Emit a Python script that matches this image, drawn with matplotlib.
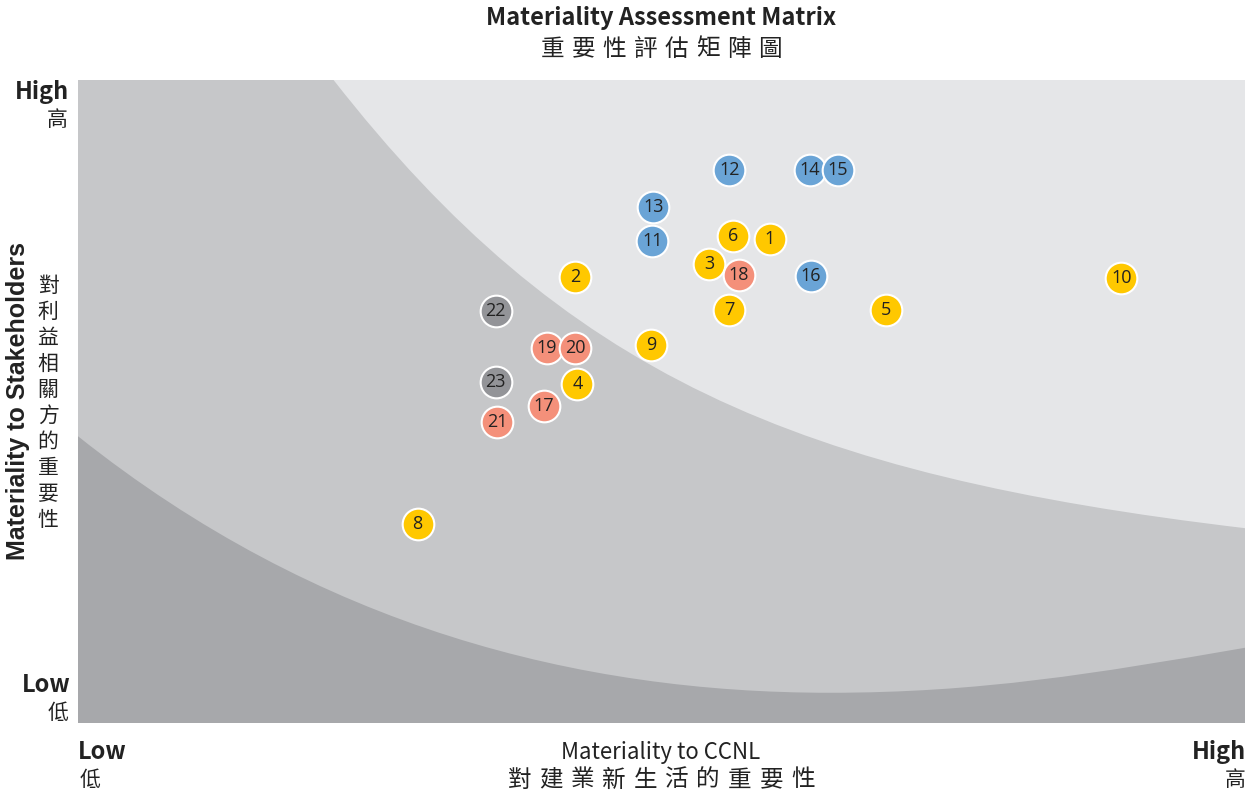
import numpy as np
import matplotlib
matplotlib.use("Agg")
import matplotlib.pyplot as plt
from matplotlib.path import Path
from matplotlib.patches import PathPatch

# issue numbers and their positions on the matrix (0-100 both ways)
labels = [str(i) for i in range(1, 24)]
x_ccnl = [59.3, 42.6, 54.1, 42.8, 69.2, 56.1, 55.8, 29.1, 49.1, 89.4,
          49.2, 55.8, 49.3, 62.7, 65.1, 62.8,
          39.9, 56.6, 40.2, 42.6, 35.9,
          35.8, 35.8]
y_stake = [75.3, 69.4, 71.4, 52.7, 64.2, 75.7, 64.2, 31.0, 58.8, 69.2,
           75.0, 86.0, 80.3, 86.0, 86.0, 69.5,
           49.3, 69.7, 58.3, 58.3, 46.8,
           64.1, 53.0]
groups = ["y"] * 10 + ["b"] * 6 + ["r"] * 5 + ["g"] * 2
group_colors = {"y": "#ffc800", "b": "#6aa4d6", "r": "#f4907a", "g": "#939498"}

# background zone boundaries (bezier control points)
outer_curve = [(21.9, 100.0), (41.6, 54.3), (61.4, 38.6), (100.0, 30.3)]
inner_curve = [(0.0, 44.6), (20.6, 14.8), (43.0, 4.7), (64.4, 4.7),
               (77.3, 4.7), (87.2, 7.7), (100.0, 11.7)]

light = "#e5e6e8"
mid = "#c6c7c9"
dark = "#a7a8ab"
ink = "#222222"

plt.rcParams["font.family"] = ["Noto Sans CJK TC", "DejaVu Sans"]

fig = plt.figure(figsize=(12.56, 7.99), dpi=100)
ax = fig.add_axes([78 / 1256, 76 / 799, 1167 / 1256, 643 / 799])
ax.set_facecolor(mid)
ax.set_xlim(0, 100)
ax.set_ylim(0, 100)
for s in ax.spines.values():
    s.set_visible(False)
ax.set_xticks([])
ax.set_yticks([])

# light zone (top right)
verts = outer_curve + [(100, 100), outer_curve[0]]
codes = [Path.MOVETO, Path.CURVE4, Path.CURVE4, Path.CURVE4, Path.LINETO, Path.CLOSEPOLY]
ax.add_patch(PathPatch(Path(verts, codes), facecolor=light, edgecolor="none", zorder=1))

# dark zone (bottom)
verts = inner_curve + [(100, 0), (0, 0), inner_curve[0]]
codes = [Path.MOVETO] + [Path.CURVE4] * 6 + [Path.LINETO, Path.LINETO, Path.CLOSEPOLY]
ax.add_patch(PathPatch(Path(verts, codes), facecolor=dark, edgecolor="none", zorder=1))

cols = [group_colors[g] for g in groups]
for i in range(len(labels)):
    ax.scatter(x_ccnl[i], y_stake[i], s=520, color=cols[i], edgecolor="white",
               linewidth=1.5, zorder=3 + i * 0.01)
    ax.text(x_ccnl[i], y_stake[i], labels[i], ha="center", va="center",
            fontsize=13, color=ink, family=["Open Sans", "DejaVu Sans"],
            zorder=3 + i * 0.01 + 0.005)


def ft(px, py, s, **kw):
    fig.text(px / 1256, 1 - py / 799, s, color=ink, **kw)


def spaced(s, cx, py, pitch, size):
    # letter-spaced chinese line, centred on cx
    start = cx - pitch * (len(s) - 1) / 2
    for k, ch in enumerate(s):
        ft(start + k * pitch, py, ch, ha="center", va="center", fontsize=size)


ft(661, 18, "Materiality Assessment Matrix", ha="center", va="center",
   fontsize=17, fontweight="bold")
spaced("重要性評估矩陣圖", 661, 49, 31, 17)

ft(42, 92, "High", ha="center", va="center", fontsize=17, fontweight="bold")
ft(57, 120, "高", ha="center", va="center", fontsize=15)
ft(46, 685, "Low", ha="center", va="center", fontsize=17, fontweight="bold")
ft(58, 713, "低", ha="center", va="center", fontsize=15)

ft(18, 401, "Materiality to Stakeholders", ha="center", va="center", rotation=90,
   fontsize=18, fontweight="bold", family=["Liberation Sans", "DejaVu Sans"])
ft(48, 403, "\n".join("對利益相關方的重要性"), ha="center", va="center",
   fontsize=15, linespacing=1.24)

ft(78, 752, "Low", ha="left", va="center", fontsize=17, fontweight="bold")
ft(80, 780, "低", ha="left", va="center", fontsize=15)
ft(661, 752, "Materiality to CCNL", ha="center", va="center", fontsize=16)
spaced("對建業新生活的重要性", 661, 780, 31.5, 17)
ft(1246, 752, "High", ha="right", va="center", fontsize=17, fontweight="bold")
ft(1246, 780, "高", ha="right", va="center", fontsize=15)

fig.savefig("out.png", dpi=100, facecolor="white")
